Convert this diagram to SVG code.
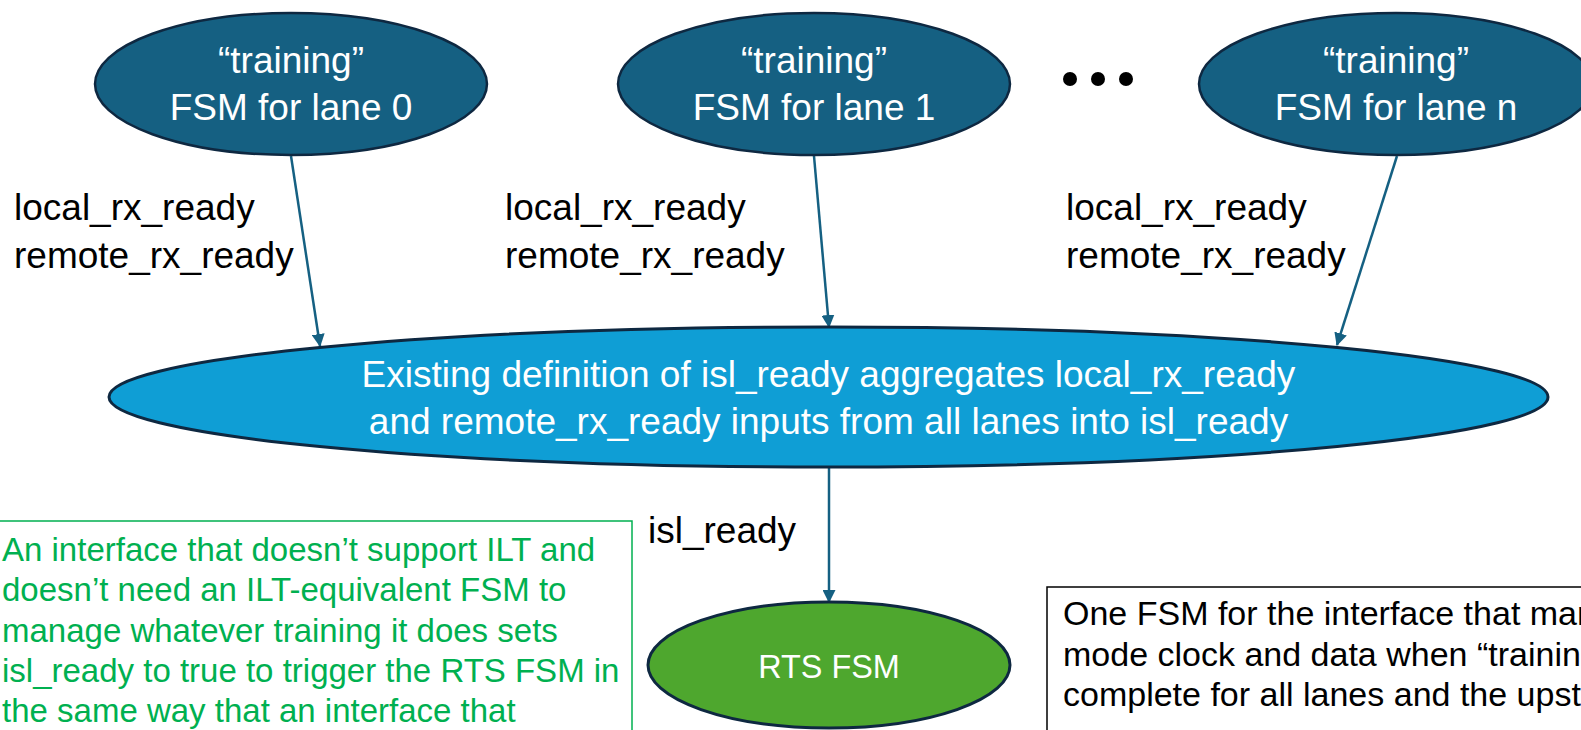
<svg xmlns="http://www.w3.org/2000/svg" width="1581" height="730" viewBox="0 0 1581 730">
  <style>
    .lane { fill: #156082; stroke: #0e2841; stroke-width: 2.5; }
    .agg { fill: #0f9ed5; stroke: #0e2841; stroke-width: 3; }
    .rts { fill: #4ea72e; stroke: #0e2841; stroke-width: 3; }
    .wt { font-family: "Liberation Sans", Arial, sans-serif; font-size: 37px; fill: #ffffff; text-anchor: middle; }
    .lbl { font-family: "Liberation Sans", Arial, sans-serif; font-size: 37px; fill: #000000; }
    .note { font-family: "Liberation Sans", Arial, sans-serif; font-size: 34px; }
    .conn { stroke: #156082; stroke-width: 2.5; fill: none; marker-end: url(#arrow); }
  </style>
  <defs>
    <marker id="arrow" markerUnits="userSpaceOnUse" markerWidth="13" markerHeight="13" refX="12" refY="6.5" orient="auto">
      <path d="M0,0 L13,6.5 L0,13 Z" fill="#156082"/>
    </marker>
  </defs>
  <rect width="1581" height="730" fill="#ffffff"/>

  <!-- connectors -->
  <g id="connectors">
    <line class="conn" x1="291" y1="156" x2="320" y2="346"/>
    <line class="conn" x1="814" y1="156" x2="829" y2="327"/>
    <line class="conn" x1="1397" y1="156" x2="1337" y2="345"/>
    <line class="conn" x1="829" y1="467" x2="829" y2="602"/>
  </g>

  <!-- per-lane training FSMs -->
  <g id="lane0">
    <ellipse class="lane" cx="291" cy="84" rx="196" ry="71"/>
    <text class="wt" x="291" y="73">“training”</text>
    <text class="wt" x="291" y="120">FSM for lane 0</text>
  </g>
  <g id="lane1">
    <ellipse class="lane" cx="814" cy="84" rx="196" ry="71"/>
    <text class="wt" x="814" y="73">“training”</text>
    <text class="wt" x="814" y="120">FSM for lane 1</text>
  </g>
  <g id="ellipsis">
    <circle cx="1070" cy="79" r="7"/>
    <circle cx="1098" cy="79" r="7"/>
    <circle cx="1126" cy="79" r="7"/>
  </g>
  <g id="lanen">
    <ellipse class="lane" cx="1396" cy="84" rx="197" ry="71"/>
    <text class="wt" x="1396" y="73">“training”</text>
    <text class="wt" x="1396" y="120">FSM for lane n</text>
  </g>

  <!-- signal labels -->
  <g id="labels">
    <text class="lbl" x="14" y="220">local_rx_ready</text>
    <text class="lbl" x="14" y="268">remote_rx_ready</text>
    <text class="lbl" x="505" y="220">local_rx_ready</text>
    <text class="lbl" x="505" y="268">remote_rx_ready</text>
    <text class="lbl" x="1066" y="220">local_rx_ready</text>
    <text class="lbl" x="1066" y="268">remote_rx_ready</text>
    <text class="lbl" x="648" y="543">isl_ready</text>
  </g>

  <!-- aggregation of lane readiness -->
  <g id="aggregate">
    <ellipse class="agg" cx="828.5" cy="397" rx="719.5" ry="70"/>
    <text class="wt" x="828.5" y="387">Existing definition of isl_ready aggregates local_rx_ready</text>
    <text class="wt" x="828.5" y="434">and remote_rx_ready inputs from all lanes into isl_ready</text>
  </g>

  <g id="rts">
    <ellipse class="rts" cx="829" cy="665" rx="181" ry="63"/>
    <text class="wt" x="829" y="678" style="font-size:32.4px">RTS FSM</text>
  </g>

  <!-- side notes -->
  <g id="note-no-ilt">
    <rect x="-5" y="521" width="637" height="230" fill="none" stroke="#00b050" stroke-width="1.5"/>
    <text class="note" fill="#00b050" style="font-size:33px">
      <tspan x="2" y="561">An interface that doesn’t support ILT and</tspan>
      <tspan x="2" y="601">doesn’t need an ILT-equivalent FSM to</tspan>
      <tspan x="2" y="642">manage whatever training it does sets</tspan>
      <tspan x="2" y="682">isl_ready to true to trigger the RTS FSM in</tspan>
      <tspan x="2" y="722">the same way that an interface that</tspan>
    </text>
  </g>
  <g id="note-interface-fsm">
    <rect x="1047" y="587" width="560" height="180" fill="none" stroke="#000000" stroke-width="1.5"/>
    <text class="note" fill="#000000">
      <tspan x="1063" y="625">One FSM for the interface that man</tspan>
      <tspan x="1063" y="666">mode clock and data when “trainin</tspan>
      <tspan x="1063" y="706">complete for all lanes and the upst</tspan>
    </text>
  </g>
</svg>
